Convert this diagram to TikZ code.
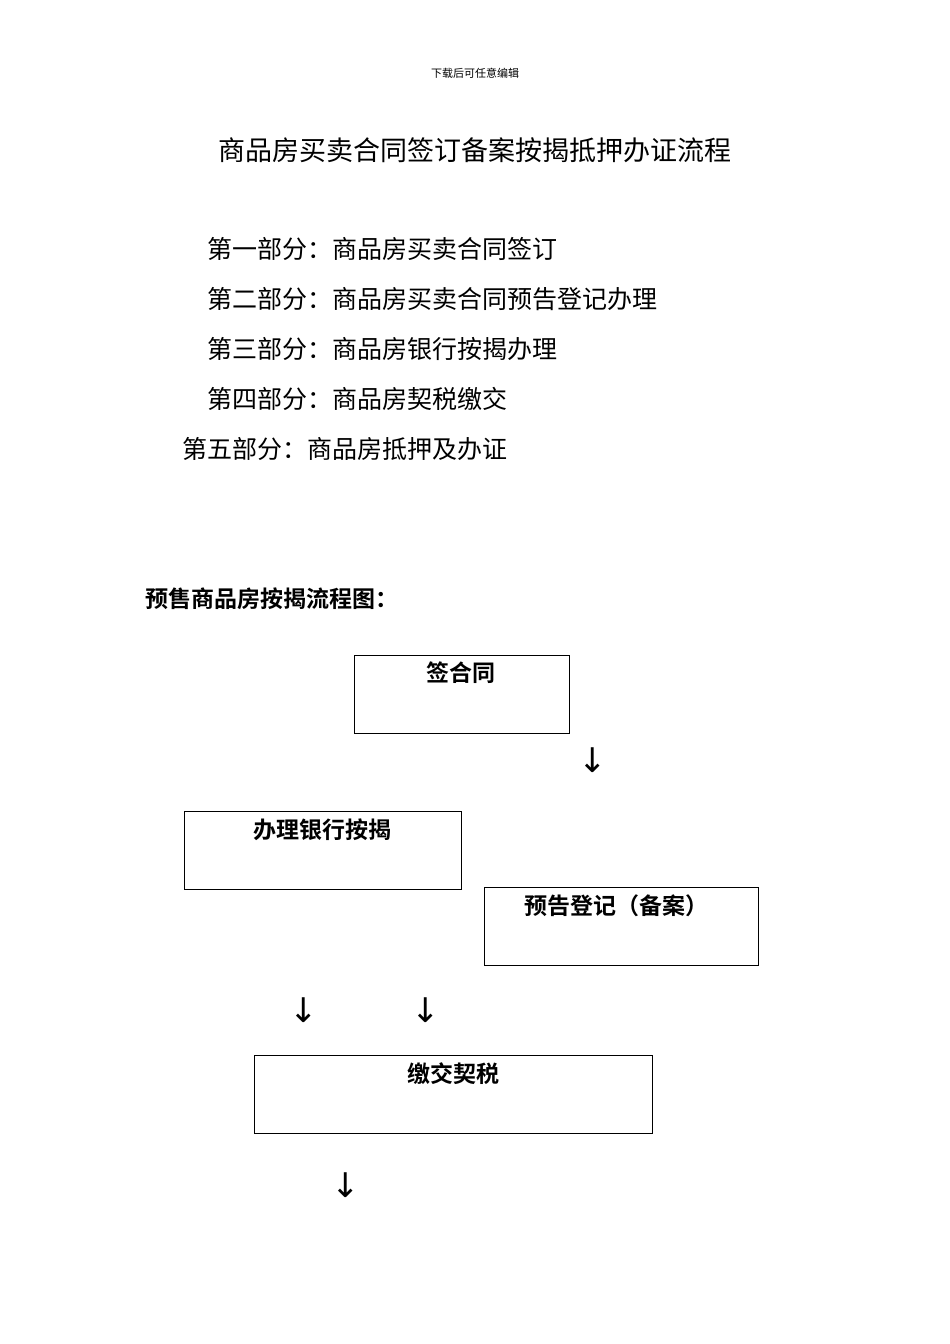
\documentclass[tikz,border=0pt]{standalone}
\usepackage{fontspec}
\newfontfamily\cjk{Noto Sans CJK SC}
\newfontfamily\cjkb{Noto Sans CJK SC Bold}
\newfontfamily\sym{DejaVu Sans}
\begin{document}
\begin{tikzpicture}[x=1pt,y=-1pt,
  box/.style={draw,line width=0.8pt},
  lbl/.style={font=\cjkb\fontsize{23}{26}\selectfont,anchor=center},
  part/.style={font=\cjk\fontsize{25}{28}\selectfont,anchor=west},
  arr/.style={font=\sym\fontsize{34}{38}\selectfont}]
\useasboundingbox[fill=white] (0,0) rectangle (950,1344);
\node[font=\cjk\fontsize{11}{13}\selectfont] (hdr) at (475,73) {下载后可任意编辑};
\node[font=\cjk\fontsize{27}{30}\selectfont] (title) at (475,150) {商品房买卖合同签订备案按揭抵押办证流程};
\node[part] (p1) at (204,249) {第一部分：商品房买卖合同签订};
\node[part] (p2) at (204,299) {第二部分：商品房买卖合同预告登记办理};
\node[part] (p3) at (204,349) {第三部分：商品房银行按揭办理};
\node[part] (p4) at (204,399) {第四部分：商品房契税缴交};
\node[part] (p5) at (179,449) {第五部分：商品房抵押及办证};
\node[font=\cjkb\fontsize{23}{26}\selectfont,anchor=west] (sub) at (142,599) {预售商品房按揭流程图：};
\draw[box] (354,655) rectangle (569,733);
\node[lbl] (b1) at (461,673) {签合同};
\draw[box] (184,811) rectangle (461,889);
\node[lbl] (b2) at (322,830) {办理银行按揭};
\draw[box] (484,887) rectangle (758,965);
\node[lbl] (b3) at (616,906) {预告登记（备案）};
\draw[box] (254,1055) rectangle (652,1133);
\node[lbl] (b4) at (453,1074) {缴交契税};
\node[arr] (a1) at (593,760) {↓};
\node[arr] (a2) at (304,1010) {↓};
\node[arr] (a3) at (426,1010) {↓};
\node[arr] (a4) at (346,1185) {↓};
\end{tikzpicture}
\end{document}
